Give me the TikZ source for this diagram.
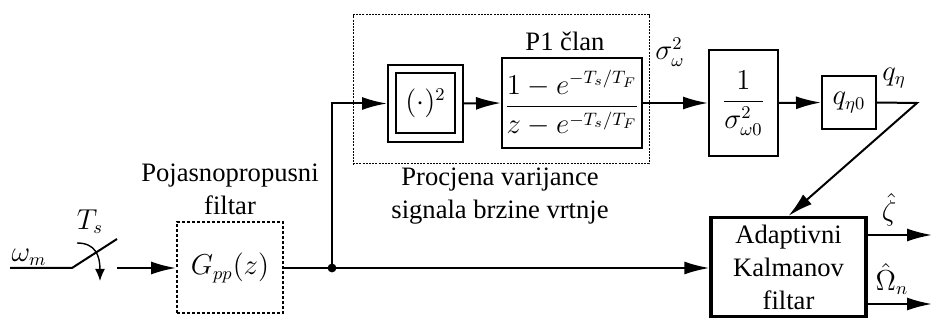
\documentclass[tikz,border=0pt]{standalone}
\usepackage{amsmath}
\usepackage{fontspec}
\setmainfont{Liberation Serif}
\usetikzlibrary{arrows.meta}

\begin{document}
\begin{tikzpicture}[x=0.5pt,y=-0.5pt,
  font=\fontsize{13.3}{16.5}\selectfont,
  block/.style={draw,line width=1pt,inner sep=0pt,align=center},
  sig/.style={line width=1pt,-{Latex[length=12.5pt,width=6.5pt]}},
  wire/.style={line width=1pt}]

\useasboundingbox (0,0) rectangle (932,320);

% sampler
\coordinate (in) at (10,268);
\coordinate (swa) at (72,268);
\coordinate (swb) at (117,239);
\coordinate (swc) at (117,268);
\draw[wire] (in) -- (swa) -- (swb);
\draw[line width=0.7pt,-{Latex[length=6pt,width=5pt]}] (77,243) .. controls (95,243) and (100,255) .. (100,281);
\node (wm) at (29,257) {$\omega_m$};
\node (ts) at (90,222) {$T_s$};

% band-pass filter
\node[block,dash pattern=on 1.5pt off 1pt,minimum width=53pt,minimum height=45.5pt] (gpp) at (230,268) {$G_{pp}(z)$};
\node[align=center] (gpplab) at (230,189) {Pojasnopropusni\\filtar};

% variance estimator
\node[draw,dash pattern=on 1pt off 0.6pt,line width=0.5pt,minimum width=148pt,minimum height=74.5pt] (est) at (501,89.5) {};
\node[align=center] (estlab) at (500,196.5) {Procjena varijance\\signala brzine vrtnje};
\node[block,minimum width=37.5pt,minimum height=38.5pt] (sq) at (425.5,103.5) {};
\node[block,minimum width=29.5pt,minimum height=30pt] (sqin) at (sq) {$(\cdot)^2$};
\node[block,minimum width=70pt,minimum height=45pt] (p1) at (572,103) {$\dfrac{1-e^{-T_s/T_F}}{z-e^{-T_s/T_F}}$};
\node (p1lab) at (565,41) {P1 član};

% normalisation
\node[block,minimum width=34.5pt,minimum height=53pt] (inv) at (743.5,103) {$\dfrac{1}{\sigma_{\omega0}^2}$};
\node[block,minimum width=27pt,minimum height=26.5pt] (q0) at (849,102.5) {$q_{\eta0}$};

% Kalman filter
\node[block,line width=1.6pt,minimum width=77.5pt,minimum height=49.5pt] (kal) at (788.5,267) {Adaptivni\\Kalmanov\\filtar};

% signal flow
\coordinate (jn) at (332,268);
\draw[sig] (swc) -- (gpp.west);
\draw[wire] (gpp.east) -- (jn);
\draw[sig] (jn) -- (kal.west |- jn);
\fill (jn) circle (2.2pt);
\draw[sig] (jn) |- (sq.west);
\draw[sig] (sq.east) -- (p1.west);
\draw[sig] (p1.east) -- (inv.west);
\draw[sig] (inv.east) -- (q0.west);
\coordinate (qe) at (917,103);
\draw[sig] (q0.east) -- (qe) -- (kal.north);
\node (sw) at (670,52) {$\sigma_\omega^2$};
\node (qeta) at (894,78) {$q_\eta$};

% outputs
\coordinate (oz) at (932,235);
\coordinate (oo) at (932,304);
\draw[sig] (kal.east |- oz) -- (oz);
\draw[sig] (kal.east |- oo) -- (oo);
\node (zeta) at (889,210) {$\hat\zeta$};
\node (om) at (892,279) {$\hat\Omega_n$};

\end{tikzpicture}
\end{document}
